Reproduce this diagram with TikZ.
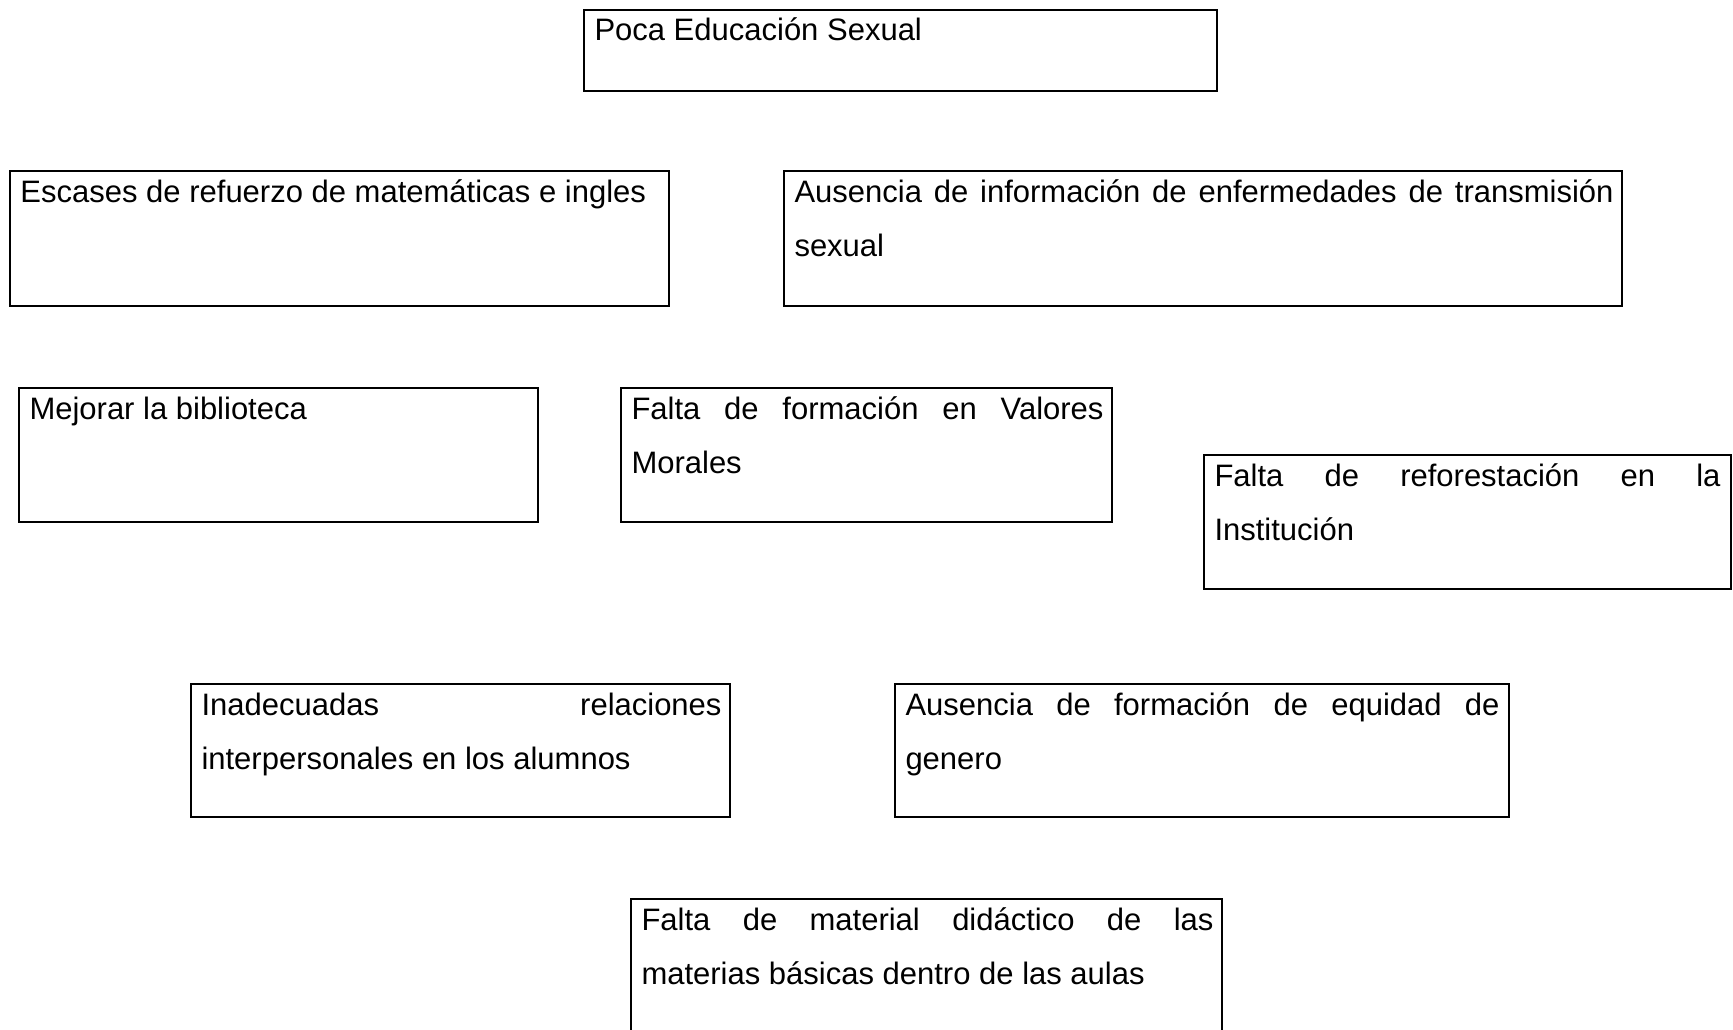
\documentclass[tikz,border=0pt]{standalone}
\usepackage{fontspec}
\setmainfont{Liberation Sans}
\newlength\upx
\setlength\upx{0.4pt}
\newcommand{\jline}[2]{\makebox[#1\upx][s]{#2}}
\begin{document}
\begin{tikzpicture}[x=0.4pt,y=-0.4pt,
  box/.style={draw, line width=0.8pt, inner sep=0pt, outer sep=0pt, anchor=north west},
  txt/.style={anchor=base west, inner sep=0pt, font=\fontsize{12.4}{14}\selectfont}]
\useasboundingbox (0,0) rectangle (1733,1029);
\fill[white] (0,0) rectangle (1733,1029);
% boxes
\node[box, minimum width=633\upx, minimum height=81\upx] (b1) at (584,10) {};
\node[box, minimum width=659\upx, minimum height=135\upx] (b2) at (10,171) {};
\node[box, minimum width=838\upx, minimum height=135\upx] (b3) at (784,171) {};
\node[box, minimum width=519\upx, minimum height=134\upx] (b4) at (19,388) {};
\node[box, minimum width=491\upx, minimum height=134\upx] (b5) at (621,388) {};
\node[box, minimum width=527\upx, minimum height=134\upx] (b6) at (1204,455) {};
\node[box, minimum width=539\upx, minimum height=133\upx] (b7) at (191,684) {};
\node[box, minimum width=614\upx, minimum height=133\upx] (b8) at (895,684) {};
\begin{scope}
\clip (0,0) rectangle (1733,1029);
\node[box, minimum width=591\upx, minimum height=170\upx] (b9) at (631,899) {};
\end{scope}
% texts
\node[txt] (t1) at ([shift={(10,30)}]b1.north west) {Poca Educación Sexual};
\node[txt] (t2) at ([shift={(10,31)}]b2.north west) {Escases de refuerzo de matemáticas e ingles};
\node[txt] (t3a) at ([shift={(10,31)}]b3.north west) {\jline{819}{Ausencia de información de enfermedades de transmisión}};
\node[txt] (t3b) at ([shift={(10,85)}]b3.north west) {sexual};
\node[txt] (t4) at ([shift={(10,31)}]b4.north west) {Mejorar la biblioteca};
\node[txt] (t5a) at ([shift={(10,31)}]b5.north west) {\jline{472}{Falta de formación en Valores}};
\node[txt] (t5b) at ([shift={(10,85)}]b5.north west) {Morales};
\node[txt] (t6a) at ([shift={(10,31)}]b6.north west) {\jline{506}{Falta de reforestación en la}};
\node[txt] (t6b) at ([shift={(10,85)}]b6.north west) {Institución};
\node[txt] (t7a) at ([shift={(10,31)}]b7.north west) {\jline{520}{Inadecuadas relaciones}};
\node[txt] (t7b) at ([shift={(10,85)}]b7.north west) {interpersonales en los alumnos};
\node[txt] (t8a) at ([shift={(10,31)}]b8.north west) {\jline{594}{Ausencia de formación de equidad de}};
\node[txt] (t8b) at ([shift={(10,85)}]b8.north west) {genero};
\node[txt] (t9a) at ([shift={(10,31)}]b9.north west) {\jline{572}{Falta de material didáctico de las}};
\node[txt] (t9b) at ([shift={(10,85)}]b9.north west) {materias básicas dentro de las aulas};
\end{tikzpicture}
\end{document}
